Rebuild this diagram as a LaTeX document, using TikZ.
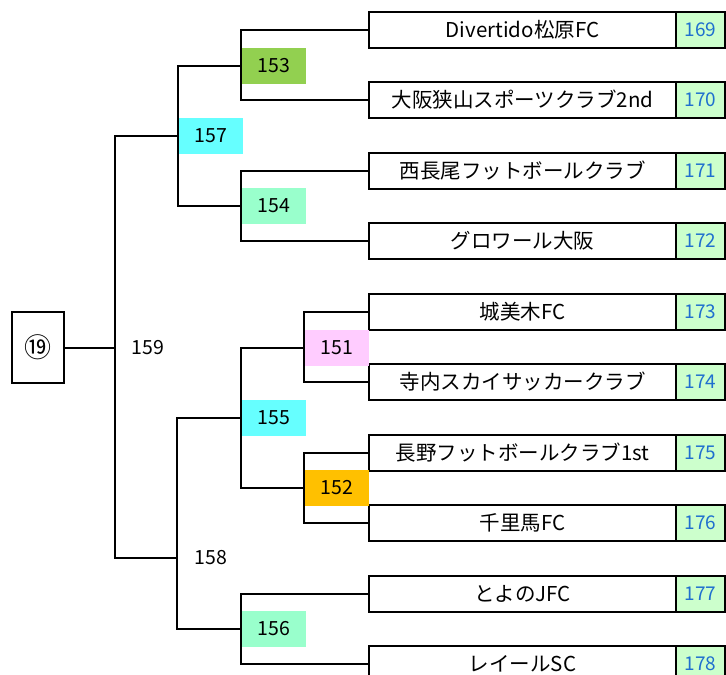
\documentclass[tikz,border=0pt]{standalone}
\usepackage{fontspec}
\setmainfont{Noto Sans CJK JP}
\definecolor{cgreen}{HTML}{92D050}
\definecolor{ccyan}{HTML}{66FFFF}
\definecolor{cmint}{HTML}{99FFCC}
\definecolor{cpink}{HTML}{FFCCFF}
\definecolor{corange}{HTML}{FFC000}
\definecolor{cnumbg}{HTML}{CCFFCC}
\definecolor{cnumtx}{HTML}{1F6FCF}
\begin{document}
\begin{tikzpicture}[x=1pt,y=-1pt,
  line width=2pt,
  team/.style={draw=black,fill=white,minimum width=307pt,minimum height=36pt,inner sep=0pt,anchor=west,font=\fontsize{20.5}{24}\selectfont},
  num/.style={draw=black,fill=cnumbg,minimum width=49pt,minimum height=36pt,inner sep=0pt,anchor=west,text=cnumtx,font=\fontsize{19}{22}\selectfont},
  match/.style={minimum width=64pt,minimum height=36pt,inner sep=0pt,anchor=west,font=\fontsize{19.5}{22}\selectfont},
  plain/.style={inner sep=0pt,font=\fontsize{19.5}{22}\selectfont},
  conn/.style={draw=black,line width=2pt}
]
\useasboundingbox (0,0) rectangle (726,675);
% teams
\node[team] (t1) at (368,30) {Divertido松原FC};
\node[team] (t2) at (368,100) {大阪狭山スポーツクラブ2nd};
\node[team] (t3) at (368,171) {西長尾フットボールクラブ};
\node[team] (t4) at (368,241) {グロワール大阪};
\node[team] (t5) at (368,312) {城美木FC};
\node[team] (t6) at (368,382) {寺内スカイサッカークラブ};
\node[team] (t7) at (368,453) {長野フットボールクラブ1st};
\node[team] (t8) at (368,523) {千里馬FC};
\node[team] (t9) at (368,594) {とよのJFC};
\node[team] (t10) at (368,664) {レイールSC};
% numbers
\node[num] (n1) at (675,30) {169};
\node[num] (n2) at (675,100) {170};
\node[num] (n3) at (675,171) {171};
\node[num] (n4) at (675,241) {172};
\node[num] (n5) at (675,312) {173};
\node[num] (n6) at (675,382) {174};
\node[num] (n7) at (675,453) {175};
\node[num] (n8) at (675,523) {176};
\node[num] (n9) at (675,594) {177};
\node[num] (n10) at (675,664) {178};
% match labels
\node[match,fill=cgreen] (l153) at (241,66) {153};
\node[match,fill=cmint] (l154) at (241,206) {154};
\node[match,fill=ccyan] (l157) at (178,136) {157};
\node[match,fill=cpink] (l151) at (304,348) {151};
\node[match,fill=corange] (l152) at (304,488) {152};
\node[match,fill=ccyan] (l155) at (241,418) {155};
\node[match,fill=cmint] (l156) at (241,629) {156};
\node[plain] (x159) at (148,348) {159};
\node[plain] (x158) at (211,558) {158};
% root
\node[draw=black,minimum width=52pt,minimum height=71pt,inner sep=0pt,font=\fontsize{27}{30}\selectfont] (r19) at (38,347.5) {⑲};
\coordinate (j159) at (115,347.5);
\coordinate (j158) at (177,558);
% connectors
\draw[conn] (t1.west) -| (l153.west) |- (t2.west);
\draw[conn] (t3.west) -| (l154.west) |- (t4.west);
\draw[conn] (l153.west) -| (l157.west) |- (l154.west);
\draw[conn] (t5.west) -| (l151.west) |- (t6.west);
\draw[conn] (t7.west) -| (l152.west) |- (t8.west);
\draw[conn] (l151.west) -| (l155.west) |- (l152.west);
\draw[conn] (t9.west) -| (l156.west) |- (t10.west);
\draw[conn] (l155.west) -| (j158) |- (l156.west);
\draw[conn] (l157.west) -| (j159) |- (j158);
\draw[conn] (r19.east) -- (j159);
\end{tikzpicture}
\end{document}
